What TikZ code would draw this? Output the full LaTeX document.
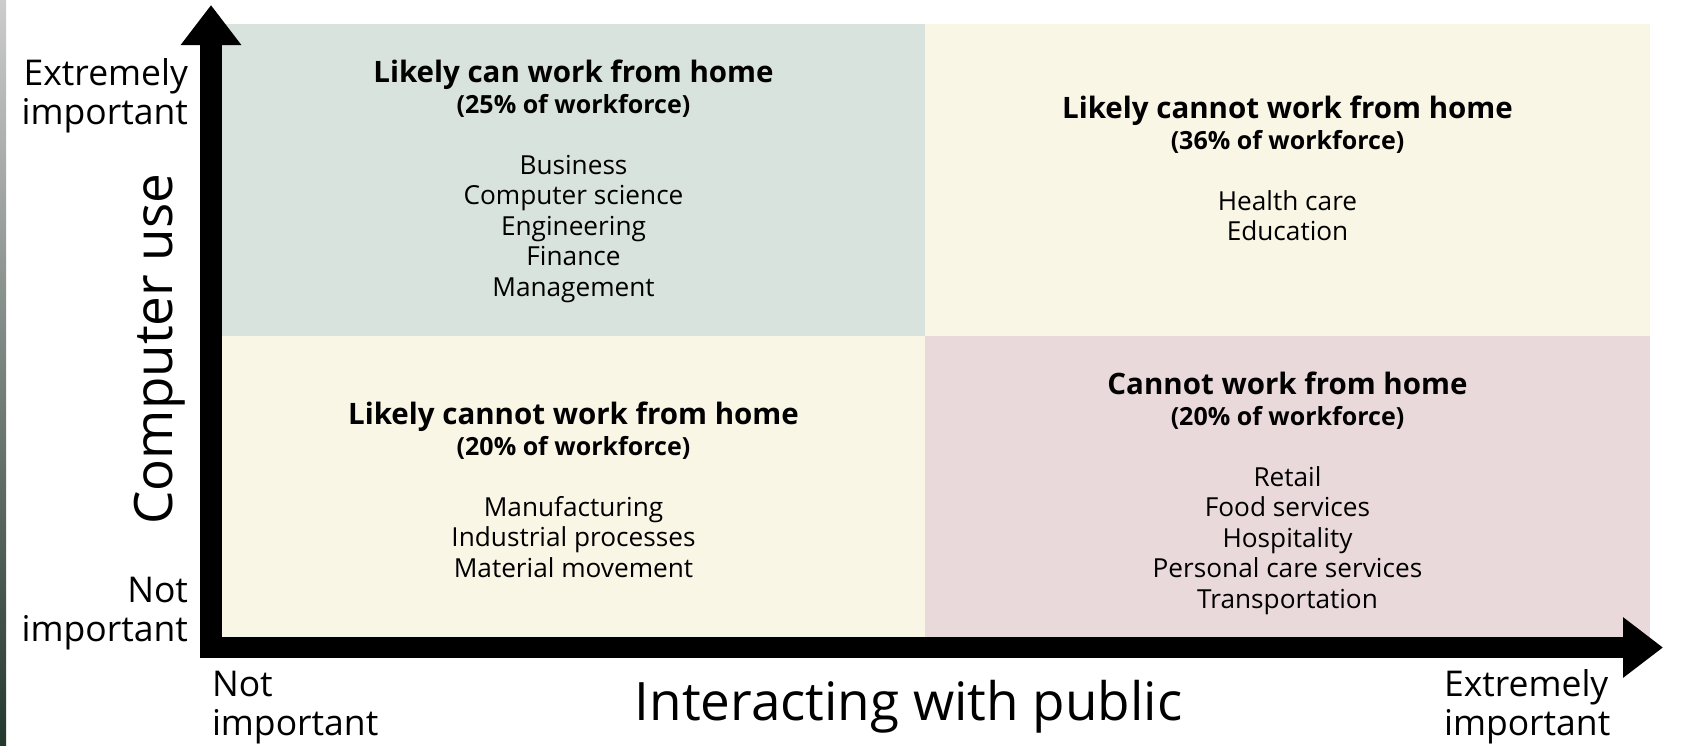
\documentclass[tikz,border=0pt]{standalone}
\usepackage{fontspec}
\setmainfont{Open Sans}
\usetikzlibrary{arrows.meta,positioning}
\definecolor{cangreen}{HTML}{D9E3DE}
\definecolor{likelycream}{HTML}{F9F6E6}
\definecolor{cannotpink}{HTML}{EAD9DB}
\definecolor{photodark}{HTML}{24382E}
\tikzset{
    quad/.style = {
        rectangle, draw=none,
        outer sep=0,
        inner sep=0
    },
    ttl/.style = {
        anchor=base, inner sep=0, outer sep=0,
        font=\bfseries\fontsize{29.5}{31}\selectfont
    },
    share/.style = {
        inner sep=0, outer sep=0,
        font=\bfseries\fontsize{25}{31}\selectfont
    },
    lst/.style = {
        align=center, inner sep=0, outer sep=0,
        font=\fontsize{26.2}{30.5}\selectfont
    },
    endlbl/.style = {
        inner sep=0, outer sep=0,
        font=\fontsize{35.5}{39}\selectfont
    },
    axttl/.style = {
        anchor=base, inner sep=0, outer sep=0,
        font=\fontsize{53}{60}\selectfont
    },
    axis/.style = {
        line width=21.5pt, line join=miter,
        {Triangle[length=40pt,width=58pt]}-{Triangle[length=40pt,width=58pt]}
    }
}

\begin{document}
\begin{tikzpicture}[x=1pt,y=-1pt]
\useasboundingbox (0,0) rectangle (1683,745);
\shade[top color=gray!40, bottom color=photodark] (0,0) rectangle (6,745);

% quadrants
\node[quad, fill=cangreen, minimum width=703pt, minimum height=312pt, anchor=north west](CanQ) at (222,24) {};
\node[quad, fill=likelycream, minimum width=725pt, minimum height=312pt, right=0pt of CanQ](HomeQ) {};
\node[quad, fill=likelycream, minimum width=703pt, minimum height=301pt, below=0pt of CanQ](PlantQ) {};
\node[quad, fill=cannotpink, minimum width=725pt, minimum height=301pt, right=0pt of PlantQ](PublicQ) {};

% axes
\coordinate (ytip) at (211,5);
\coordinate (xtip) at (1663,647.5);
\draw[axis] (ytip) |- (xtip);

\node[ttl](CanT) at (573.5,82) {Likely can work from home};
\node[share, below=31pt of CanT.base, anchor=base](CanS) {(25\% of workforce)};
\node[lst, below=40pt of CanS.base](CanL) {\strut Business\\Computer science\\Engineering\\Finance\\Management};

\node[ttl](HomeT) at (1287.5,118) {Likely cannot work from home};
\node[share, below=31pt of HomeT.base, anchor=base](HomeS) {(36\% of workforce)};
\node[lst, below=40pt of HomeS.base](HomeL) {\strut Health care\\Education};

\node[ttl](PlantT) at (573.5,424) {Likely cannot work from home};
\node[share, below=31pt of PlantT.base, anchor=base](PlantS) {(20\% of workforce)};
\node[lst, below=40pt of PlantS.base](PlantL) {\strut Manufacturing\\Industrial processes\\Material movement};

\node[ttl](PublicT) at (1287.5,394) {Cannot work from home};
\node[share, below=31pt of PublicT.base, anchor=base](PublicS) {(20\% of workforce)};
\node[lst, below=40pt of PublicS.base](PublicL) {\strut Retail\\Food services\\Hospitality\\Personal care services\\Transportation};

% axis labels
\node[endlbl, align=right, anchor=north east](YHigh) at (188,57.7) {\strut Extremely\\important};
\node[endlbl, align=right, anchor=north east](YLow) at (188,574.7) {\strut Not\\important};
\node[endlbl, align=left, anchor=north west](XLow) at (212,668.7) {\strut Not\\important};
\node[endlbl, align=left, anchor=north west](XHigh) at (1444,668.7) {\strut Extremely\\important};
\node[axttl, rotate=90](YTtl) at (172,349) {Computer use};
\node[axttl](XTtl) at (908.5,720) {Interacting with public};

\end{tikzpicture}
\end{document}
